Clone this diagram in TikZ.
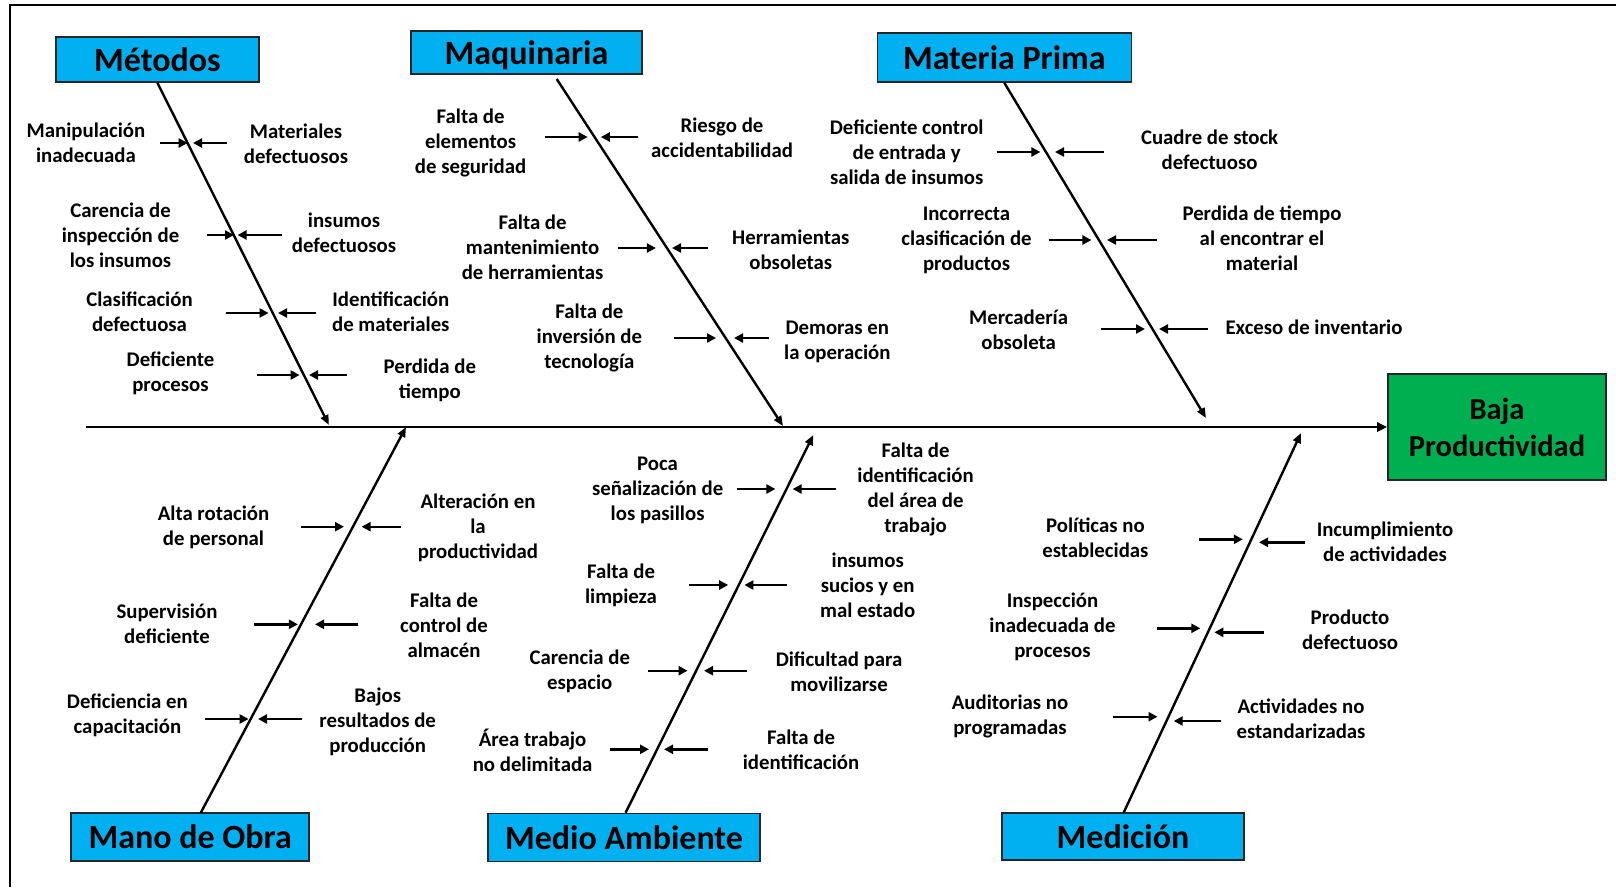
\documentclass[tikz,border=0pt]{standalone}
\usepackage{fontspec}
\setmainfont{Carlito}
\usetikzlibrary{arrows.meta}

\definecolor{catblue}{HTML}{00B0F0}
\definecolor{effgreen}{HTML}{00B050}
\definecolor{boxline}{HTML}{262626}

\tikzset{
  category/.style={draw=boxline, line width=1.6pt, fill=catblue, inner sep=0pt, text depth=0pt,
    font=\fontsize{34}{38}\selectfont\bfseries},
  effect/.style={draw=boxline, line width=1.6pt, fill=effgreen, inner sep=0pt, align=center,
    font=\fontsize{30.5}{37}\selectfont\bfseries},
  causetext/.style={inner sep=0pt, align=center, text=black,
    font=\fontsize{20.8}{25}\selectfont\bfseries},
  causearrow/.style={line width=2.4pt, -{Triangle[length=9pt,width=9pt]}},
  bone/.style={line width=2.4pt, -{Triangle[length=10pt,width=8pt]}},
  spine/.style={line width=2.8pt, -{Triangle[length=10pt,width=9pt]}},
}

% one cause: label node, arrow tail and arrow head on the bone
\newcommand{\causeitem}[5]{%
  \node[causetext] (#1) at (#2) {#3};
  \coordinate (#1-a) at (#4);
  \coordinate (#1-b) at (#5);
  \draw[causearrow] (#1-a) -- (#1-b);}

\begin{document}
\begin{tikzpicture}[x=1pt, y=-1pt]
\useasboundingbox (0,0) rectangle (1616,887);

% frame
\draw[line width=2pt] (10,887) -- (10,5) -- (1616,5);

% effect and spine
\node[effect, minimum width=218pt, minimum height=106pt] (eff) at (1497,427) {Baja\\Productividad};
\coordinate (tail) at (86,427);
\draw[spine] (tail) -- (eff.west);

% categories
\node[category, minimum width=203pt, minimum height=45pt] (met) at (157.4,59.5) {Métodos};
\node[category, minimum width=231pt, minimum height=43pt] (maq) at (526.5,52.5) {Maquinaria};
\node[category, minimum width=254pt, minimum height=49pt] (mat) at (1004.3,57.5) {Materia Prima};
\node[category, minimum width=238pt, minimum height=48pt] (mob) at (190.2,836.7) {Mano de Obra};
\node[category, minimum width=272pt, minimum height=48pt] (mam) at (624,837.3) {Medio Ambiente};
\node[category, minimum width=242pt, minimum height=47pt] (med) at (1123,836.7) {Medición};

% bones
\coordinate (met-end) at (328.9,425);
\coordinate (maq-start) at (556.7,79);
\coordinate (maq-end) at (783,426);
\coordinate (mat-end) at (1206,418);
\coordinate (mob-start) at (200.8,812.7);
\coordinate (mob-end) at (406,427);
\coordinate (mam-start) at (625.6,812.7);
\coordinate (mam-end) at (813.3,435);
\coordinate (med-start) at (1123.8,812.3);
\coordinate (med-end) at (1301,433);
\draw[bone] (met.south) -- (met-end);
\draw[bone] (maq-start) -- (maq-end);
\draw[bone] (mat.south) -- (mat-end);
\draw[bone] (mob-start) -- (mob-end);
\draw[bone] (mam-start) -- (mam-end);
\draw[bone] (med-start) -- (med-end);

% Métodos
\causeitem{m1}{86,143}{Manipulación\\inadecuada}{160,143}{187.7,143}
\causeitem{m2}{296,144}{Materiales\\defectuosos}{227,143}{193,143}
\causeitem{m3}{120.5,235}{Carencia de\\inspección de\\los insumos}{206.6,235}{234,235}
\causeitem{m4}{344,233}{insumos\\defectuosos}{281.7,235}{237.6,235}
\causeitem{m5}{139.5,312}{Clasificación\\defectuosa}{225.5,313}{268.6,313}
\causeitem{m6}{390.8,312}{Identificación\\de materiales}{316,313}{278,313}
\causeitem{m7}{170.5,373}{Deficiente\\procesos}{256.5,375}{299.6,375}
\causeitem{m8}{429.8,380}{Perdida de\\tiempo}{347,375}{309,375}

% Maquinaria
\causeitem{q1}{470.6,143}{Falta de\\elementos\\de seguridad}{544.6,137}{587.7,137}
\causeitem{q2}{722,138}{Riesgo de\\accidentabilidad}{637.6,137}{600.8,137}
\causeitem{q3}{532.6,247}{Falta de\\mantenimiento\\de herramientas}{618,248}{655.9,248}
\causeitem{q4}{790.8,250}{Herramientas\\obsoletas}{707.5,248}{672,248}
\causeitem{q5}{589.4,338}{Falta de\\inversión de\\tecnología}{673.8,338}{716,338}
\causeitem{q6}{837.3,342}{Demoras en\\la operación}{768.5,338}{734,338}

% Materia Prima
\causeitem{p1}{906.7,152}{Deficiente control\\de entrada y\\salida de insumos}{996.7,152}{1040.4,152}
\causeitem{p2}{1209.6,150}{Cuadre de stock\\defectuoso}{1104.4,152}{1055,152}
\causeitem{p3}{966.5,240}{Incorrecta\\clasificación de\\productos}{1048.7,240}{1091.4,240}
\causeitem{p4}{1262,238}{Perdida de tiempo\\al encontrar el\\material}{1156.5,240}{1107,240}
\causeitem{p5}{1018.6,330}{Mercadería\\obsoleta}{1100.8,329}{1145,329}
\causeitem{p6}{1314,327}{Exceso de inventario}{1207.5,329}{1159,329}

% Mano de Obra
\causeitem{o1}{213.5,527.7}{Alta rotación\\de personal}{301,526.7}{344,526.7}
\causeitem{o2}{478,527.7}{Alteración en\\la\\productividad}{400.5,526.7}{361.6,526.7}
\causeitem{o3}{167,624}{Supervisión\\deficiente}{253.8,624.3}{297.9,624.3}
\causeitem{o4}{444,625.7}{Falta de\\control de\\almacén}{358,624.3}{315,624.3}
\causeitem{o5}{127.4,715.7}{Deficiencia en\\capacitación}{205,719}{248.6,719}
\causeitem{o6}{377.7,721.7}{Bajos\\resultados de\\producción}{302,719}{258,719}

% Medio Ambiente
\causeitem{a1}{657.6,490}{Poca\\señalización de\\los pasillos}{736.5,489}{775.4,489}
\causeitem{a2}{915.6,489}{Falta de\\identificación\\del área de\\trabajo}{835.7,489}{792.6,489}
\causeitem{a3}{621,585}{Falta de\\limpieza}{689.3,585}{728.2,585}
\causeitem{a4}{867.7,585.7}{insumos\\sucios y en\\mal estado}{786.8,585}{744.4,585}
\causeitem{a5}{579.8,671.7}{Carencia de\\espacio}{648,670.7}{687.6,670.7}
\causeitem{a6}{839,671.7}{Dificultad para\\movilizarse}{746.8,670.7}{704,670.7}
\causeitem{a7}{532.6,750}{Área trabajo\\no delimitada}{610,749.3}{649,749.3}
\causeitem{a8}{801,750}{Falta de\\identificación}{708,749.3}{664,749.3}

% Medición
\causeitem{d1}{1095.4,537.3}{Políticas no\\establecidas}{1199,539.3}{1242.8,539.3}
\causeitem{d2}{1385,541.7}{Incumplimiento\\de actividades}{1305,542.3}{1259,542.3}
\causeitem{d3}{1052.5,626.7}{Inspección\\inadecuada de\\procesos}{1156.6,628.3}{1200.3,628.3}
\causeitem{d4}{1350,630}{Producto\\defectuoso}{1263.8,632.3}{1214.3,632.3}
\causeitem{d5}{1010,716}{Auditorias no\\programadas}{1112.9,716.7}{1157.5,716.7}
\causeitem{d6}{1301,719}{Actividades no\\estandarizadas}{1221,721}{1173.7,721}

\end{tikzpicture}
\end{document}
